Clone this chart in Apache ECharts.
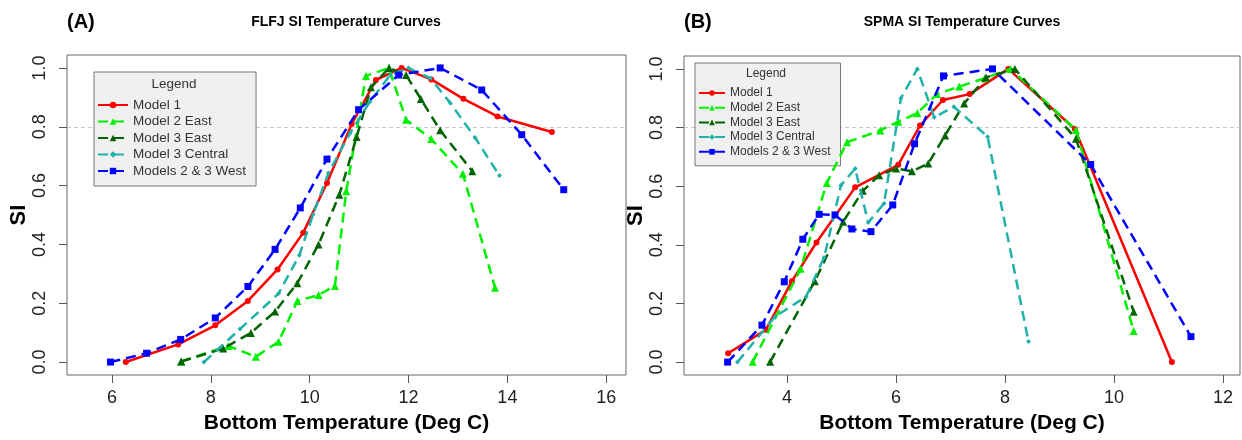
<!DOCTYPE html>
<html>
<head>
<meta charset="utf-8">
<script src="https://cdn.jsdelivr.net/npm/echarts@6/dist/echarts.min.js"></script>
<style>
  html, body { margin: 0; padding: 0; background: #fff; }
  #main { width: 1242px; height: 440px; }
</style>
</head>
<body>
<div id="main"></div>
<script>
// series names (legend order)
const seriesNames = ['Model 1', 'Model 2 East', 'Model 3 East', 'Model 3 Central', 'Models 2 & 3 West'];

// tick labels
const flfjXTicks = [6, 8, 10, 12, 14, 16];
const spmaXTicks = [4, 6, 8, 10, 12];
const siTicks = [0, 0.2, 0.4, 0.6, 0.8, 1.0];

// (A) FLFJ  [temperature, SI]
const flfjModel1 = [[6.28,0.00],[7.34,0.06],[8.09,0.125],[8.75,0.208],[9.35,0.315],[9.87,0.44],[10.35,0.609],[10.85,0.809],[11.34,0.959],[11.86,1.0],[12.46,0.961],[13.11,0.895],[13.80,0.835],[14.90,0.782]];
const flfjModel2East = [[7.40,0.002],[8.35,0.055],[8.91,0.018],[9.37,0.069],[9.75,0.208],[10.18,0.228],[10.51,0.259],[10.74,0.581],[11.14,0.973],[11.6,1.0],[11.95,0.824],[12.46,0.758],[13.10,0.640],[13.75,0.253]];
const flfjModel3East = [[7.40,0.002],[8.25,0.046],[8.81,0.099],[9.30,0.172],[9.75,0.268],[10.18,0.40],[10.60,0.569],[10.95,0.765],[11.24,0.934],[11.61,1.0],[11.95,0.976],[12.25,0.894],[12.64,0.788],[13.29,0.649]];
const flfjModel3Central = [[7.86,0.0],[8.59,0.112],[9.37,0.233],[9.79,0.363],[10.07,0.502],[10.38,0.643],[10.82,0.779],[11.22,0.886],[11.63,0.976],[12.0,1.0],[12.44,0.965],[12.84,0.882],[13.35,0.762],[13.84,0.634]];
const flfjWest = [[5.97,0.0],[6.70,0.03],[7.39,0.077],[8.09,0.15],[8.75,0.257],[9.30,0.383],[9.81,0.524],[10.35,0.69],[10.99,0.858],[11.80,0.976],[12.64,1.0],[13.48,0.925],[14.29,0.773],[15.14,0.586]];

// (B) SPMA
const spmaModel1 = [[2.92,0.03],[3.61,0.11],[4.09,0.276],[4.54,0.408],[5.25,0.596],[6.04,0.673],[6.44,0.807],[6.86,0.894],[7.35,0.914],[8.06,1.0],[9.28,0.795],[11.06,0.0]];
const spmaModel2East = [[3.37,0.001],[4.25,0.318],[4.73,0.611],[5.10,0.75],[5.71,0.79],[6.04,0.82],[6.39,0.849],[6.75,0.914],[7.16,0.94],[7.63,0.968],[8.1,1.0],[9.30,0.792],[10.36,0.106]];
const spmaModel3East = [[3.69,0.001],[4.51,0.276],[5.03,0.479],[5.39,0.584],[5.69,0.637],[6.0,0.66],[6.29,0.651],[6.59,0.677],[6.90,0.773],[7.25,0.882],[7.65,0.971],[8.18,1.0],[9.30,0.762],[10.36,0.172]];
const spmaModel3Central = [[3.09,0.0],[3.78,0.155],[4.35,0.223],[4.68,0.357],[4.99,0.603],[5.25,0.66],[5.49,0.476],[5.78,0.541],[6.09,0.90],[6.39,1.0],[6.70,0.835],[7.06,0.871],[7.68,0.769],[8.43,0.07]];
const spmaWest = [[2.91,0.0],[3.54,0.126],[3.95,0.274],[4.29,0.419],[4.59,0.504],[4.88,0.502],[5.19,0.454],[5.54,0.445],[5.94,0.536],[6.34,0.745],[6.87,0.976],[7.77,1.0],[9.57,0.674],[11.41,0.087]];

const FONT = '"Liberation Sans", Arial, sans-serif';
const styles = [
  { color: '#ff0000', symbol: 'circle', size: 6, type: 'solid' },
  { color: '#00f000', symbol: 'triangle', size: 8, type: [10, 6] },
  { color: '#006400', symbol: 'triangle', size: 8, type: [10, 6] },
  { color: '#20b2aa', symbol: 'diamond', size: 5, type: [10, 6] },
  { color: '#0000ff', symbol: 'rect', size: 7, type: [10, 6] }
];

const chart = echarts.init(document.getElementById('main'), null, { renderer: 'canvas' });

function makeSeries(list, gridIdx) {
  return list.map((data, i) => {
    const s = styles[i];
    const item = {
      name: seriesNames[i],
      type: 'line',
      xAxisIndex: gridIdx,
      yAxisIndex: gridIdx,
      data: data,
      symbol: s.symbol,
      symbolSize: s.size,
      showAllSymbol: true,
      clip: false,
      itemStyle: { color: s.color },
      lineStyle: { color: s.color, width: 2.5, type: s.type },
      emphasis: { disabled: true },
      z: 3 + i
    };
    if (i === 0) {
      // reference line at SI = 0.8
      item.markLine = {
        silent: true,
        symbol: ['none', 'none'],
        label: { show: false },
        lineStyle: { color: '#c8c8c8', type: [4, 3], width: 1 },
        data: [{ yAxis: 0.8 }],
        z: 1
      };
    }
    return item;
  });
}

function xAxisOf(gridIdx, min, max, ticks) {
  return {
    gridIndex: gridIdx, type: 'value', min: min, max: max,
    splitLine: { show: false },
    axisLine: { show: false, onZero: false },
    axisTick: { show: true, length: 8, customValues: ticks, lineStyle: { color: '#555' } },
    axisLabel: { customValues: ticks, fontSize: 18, color: '#222', margin: 14, fontFamily: FONT },
    name: 'Bottom Temperature (Deg C)', nameLocation: 'middle', nameGap: 38,
    nameTextStyle: { fontSize: 21, fontWeight: 'bold', color: '#000', fontFamily: FONT }
  };
}

function yAxisOf(gridIdx) {
  return {
    gridIndex: gridIdx, type: 'value', min: -0.044, max: 1.044,
    splitLine: { show: false },
    axisLine: { show: false, onZero: false },
    axisTick: { show: true, length: 8, customValues: siTicks, lineStyle: { color: '#555' } },
    axisLabel: {
      customValues: siTicks, rotate: 90, fontSize: 18, color: '#222', margin: 18, fontFamily: FONT,
      formatter: v => v.toFixed(1)
    },
    name: 'SI', nameLocation: 'middle', nameRotate: 90, nameGap: 36,
    nameTextStyle: { fontSize: 22, fontWeight: 'bold', color: '#000', fontFamily: FONT }
  };
}

const legendBase = {
  orient: 'vertical',
  backgroundColor: '#f0f0f0',
  borderColor: '#777',
  borderWidth: 1,
  borderRadius: 0,
  selectedMode: false,
  data: seriesNames
};

const option = {
  animation: false,
  backgroundColor: '#fff',
  grid: [
    { left: 67, right: 616, top: 55, bottom: 65, show: true, borderColor: '#666', borderWidth: 1 },
    { left: 684, right: 2, top: 56, bottom: 65, show: true, borderColor: '#666', borderWidth: 1 }
  ],
  xAxis: [xAxisOf(0, 5.09, 16.4, flfjXTicks), xAxisOf(1, 2.11, 12.31, spmaXTicks)],
  yAxis: [yAxisOf(0), yAxisOf(1)],
  legend: [
    Object.assign({}, legendBase, {
      left: 94, top: 72, padding: [26, 10, 8, 3], itemGap: 2.5, itemWidth: 30, itemHeight: 8,
      textStyle: { fontSize: 13.5, color: '#333', fontFamily: FONT }
    }),
    Object.assign({}, legendBase, {
      left: 695, top: 63, padding: [24, 10, 8, 3], itemGap: 2.7, itemWidth: 26, itemHeight: 7,
      textStyle: { fontSize: 12, color: '#333', fontFamily: FONT }
    })
  ],
  graphic: [
    { type: 'text', x: 67, y: 22, z: 100, style: { text: '(A)', font: 'bold 20px ' + FONT, fill: '#000', textVerticalAlign: 'middle' } },
    { type: 'text', x: 346, y: 22, z: 100, style: { text: 'FLFJ SI Temperature Curves', font: 'bold 14px ' + FONT, fill: '#000', textAlign: 'center', textVerticalAlign: 'middle' } },
    { type: 'text', x: 684, y: 22, z: 100, style: { text: '(B)', font: 'bold 20px ' + FONT, fill: '#000', textVerticalAlign: 'middle' } },
    { type: 'text', x: 962, y: 22, z: 100, style: { text: 'SPMA SI Temperature Curves', font: 'bold 14px ' + FONT, fill: '#000', textAlign: 'center', textVerticalAlign: 'middle' } },
    { type: 'text', x: 174, y: 84, z: 100, style: { text: 'Legend', font: '13.5px ' + FONT, fill: '#333', textAlign: 'center', textVerticalAlign: 'middle' } },
    { type: 'text', x: 766, y: 74, z: 100, style: { text: 'Legend', font: '12px ' + FONT, fill: '#333', textAlign: 'center', textVerticalAlign: 'middle' } }
  ],
  series: makeSeries([flfjModel1, flfjModel2East, flfjModel3East, flfjModel3Central, flfjWest], 0)
    .concat(makeSeries([spmaModel1, spmaModel2East, spmaModel3East, spmaModel3Central, spmaWest], 1))
};

chart.setOption(option);
window.onresize = () => chart.resize();
</script>
</body>
</html>
